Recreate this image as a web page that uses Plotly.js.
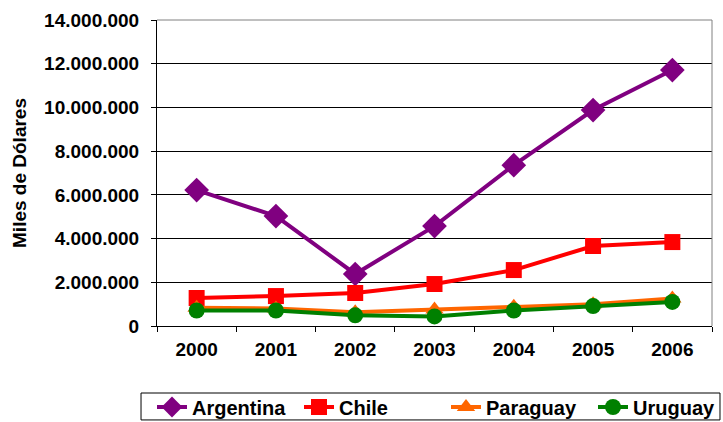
<!DOCTYPE html>
<html>
<head>
<meta charset="utf-8">
<script src="https://cdn.plot.ly/plotly-3.0.1.min.js"></script>
<style>html,body{margin:0;padding:0;background:#fff;}#chart{width:723px;height:422px;}</style>
</head>
<body>
<div id="chart"></div>
<script>
var years = ['2000','2001','2002','2003','2004','2005','2006'];
var argentina = [6220000, 5030000, 2380000, 4570000, 7360000, 9880000, 11710000];
var chile = [1280000, 1370000, 1510000, 1920000, 2560000, 3660000, 3840000];
var paraguay = [830000, 800000, 630000, 750000, 880000, 990000, 1260000];
var uruguay = [710000, 710000, 490000, 440000, 710000, 910000, 1100000];
var yTickVals = [0, 2000000, 4000000, 6000000, 8000000, 10000000, 12000000, 14000000];
var yTickText = ['0','2.000.000','4.000.000','6.000.000','8.000.000','10.000.000','12.000.000','14.000.000'];

var font = 'Liberation Sans, Arial, sans-serif';
function tr(name, y, color, symbol, size) {
  return {x: years, y: y, name: name, type: 'scatter', mode: 'lines+markers',
    line: {color: color, width: 4}, marker: {color: color, symbol: symbol, size: size}};
}
var data = [
  tr('Argentina', argentina, '#800080', 'diamond', 19),
  tr('Chile', chile, '#FF0000', 'square', 16),
  tr('Paraguay', paraguay, '#FF6600', 'triangle-up', 16),
  tr('Uruguay', uruguay, '#008000', 'circle', 16)
];
var layout = {
  width: 723, height: 422,
  margin: {l: 157, r: 11, t: 20, b: 96, autoexpand: false},
  paper_bgcolor: '#fff', plot_bgcolor: '#fff',
  font: {family: font, size: 19, color: '#000', weight: 'bold'},
  showlegend: true,
  legend: {orientation: 'h', x: -0.009, xanchor: 'left', y: -0.2647, yanchor: 'middle',
    bgcolor: 'rgba(0,0,0,0)', borderwidth: 0, font: {family: font, size: 20, weight: 'bold'},
    tracegroupgap: 0, itemwidth: 30, entrywidth: 102, entrywidthmode: 'pixels'},
  xaxis: {type: 'category', range: [-0.5, 6.5], showgrid: false, showline: true,
    linecolor: '#000', linewidth: 1, ticks: 'outside', tickson: 'boundaries', ticklen: 5,
    tickcolor: '#000', tickfont: {family: font, size: 19, weight: 'bold'},
    ticklabelstandoff: 6, zeroline: false, automargin: false},
  yaxis: {range: [0, 14000000], tickvals: yTickVals, ticktext: yTickText,
    showgrid: true, gridcolor: '#000', gridwidth: 1, showline: true, linecolor: '#000',
    linewidth: 1, ticks: 'outside', ticklen: 5, tickcolor: '#000', zeroline: false,
    tickfont: {family: font, size: 19, weight: 'bold'}, ticklabelstandoff: 8, automargin: false,
    title: {text: 'Miles de Dólares', font: {family: font, size: 19, weight: 'bold'}, standoff: 12}},
  shapes: [
    {type: 'line', xref: 'paper', yref: 'paper', x0: 0, x1: 1, y0: 1, y1: 1, line: {color: '#808080', width: 1}},
    {type: 'line', xref: 'paper', yref: 'paper', x0: 1, x1: 1, y0: 0, y1: 1, line: {color: '#808080', width: 1}},
    {type: 'rect', xref: 'paper', yref: 'paper', x0: -0.0288, x1: 1.0144, y0: -0.219, y1: -0.307, line: {color: '#000', width: 1}}
  ]
};
Plotly.newPlot('chart', data, layout, {displayModeBar: false, staticPlot: true});
</script>
</body>
</html>
